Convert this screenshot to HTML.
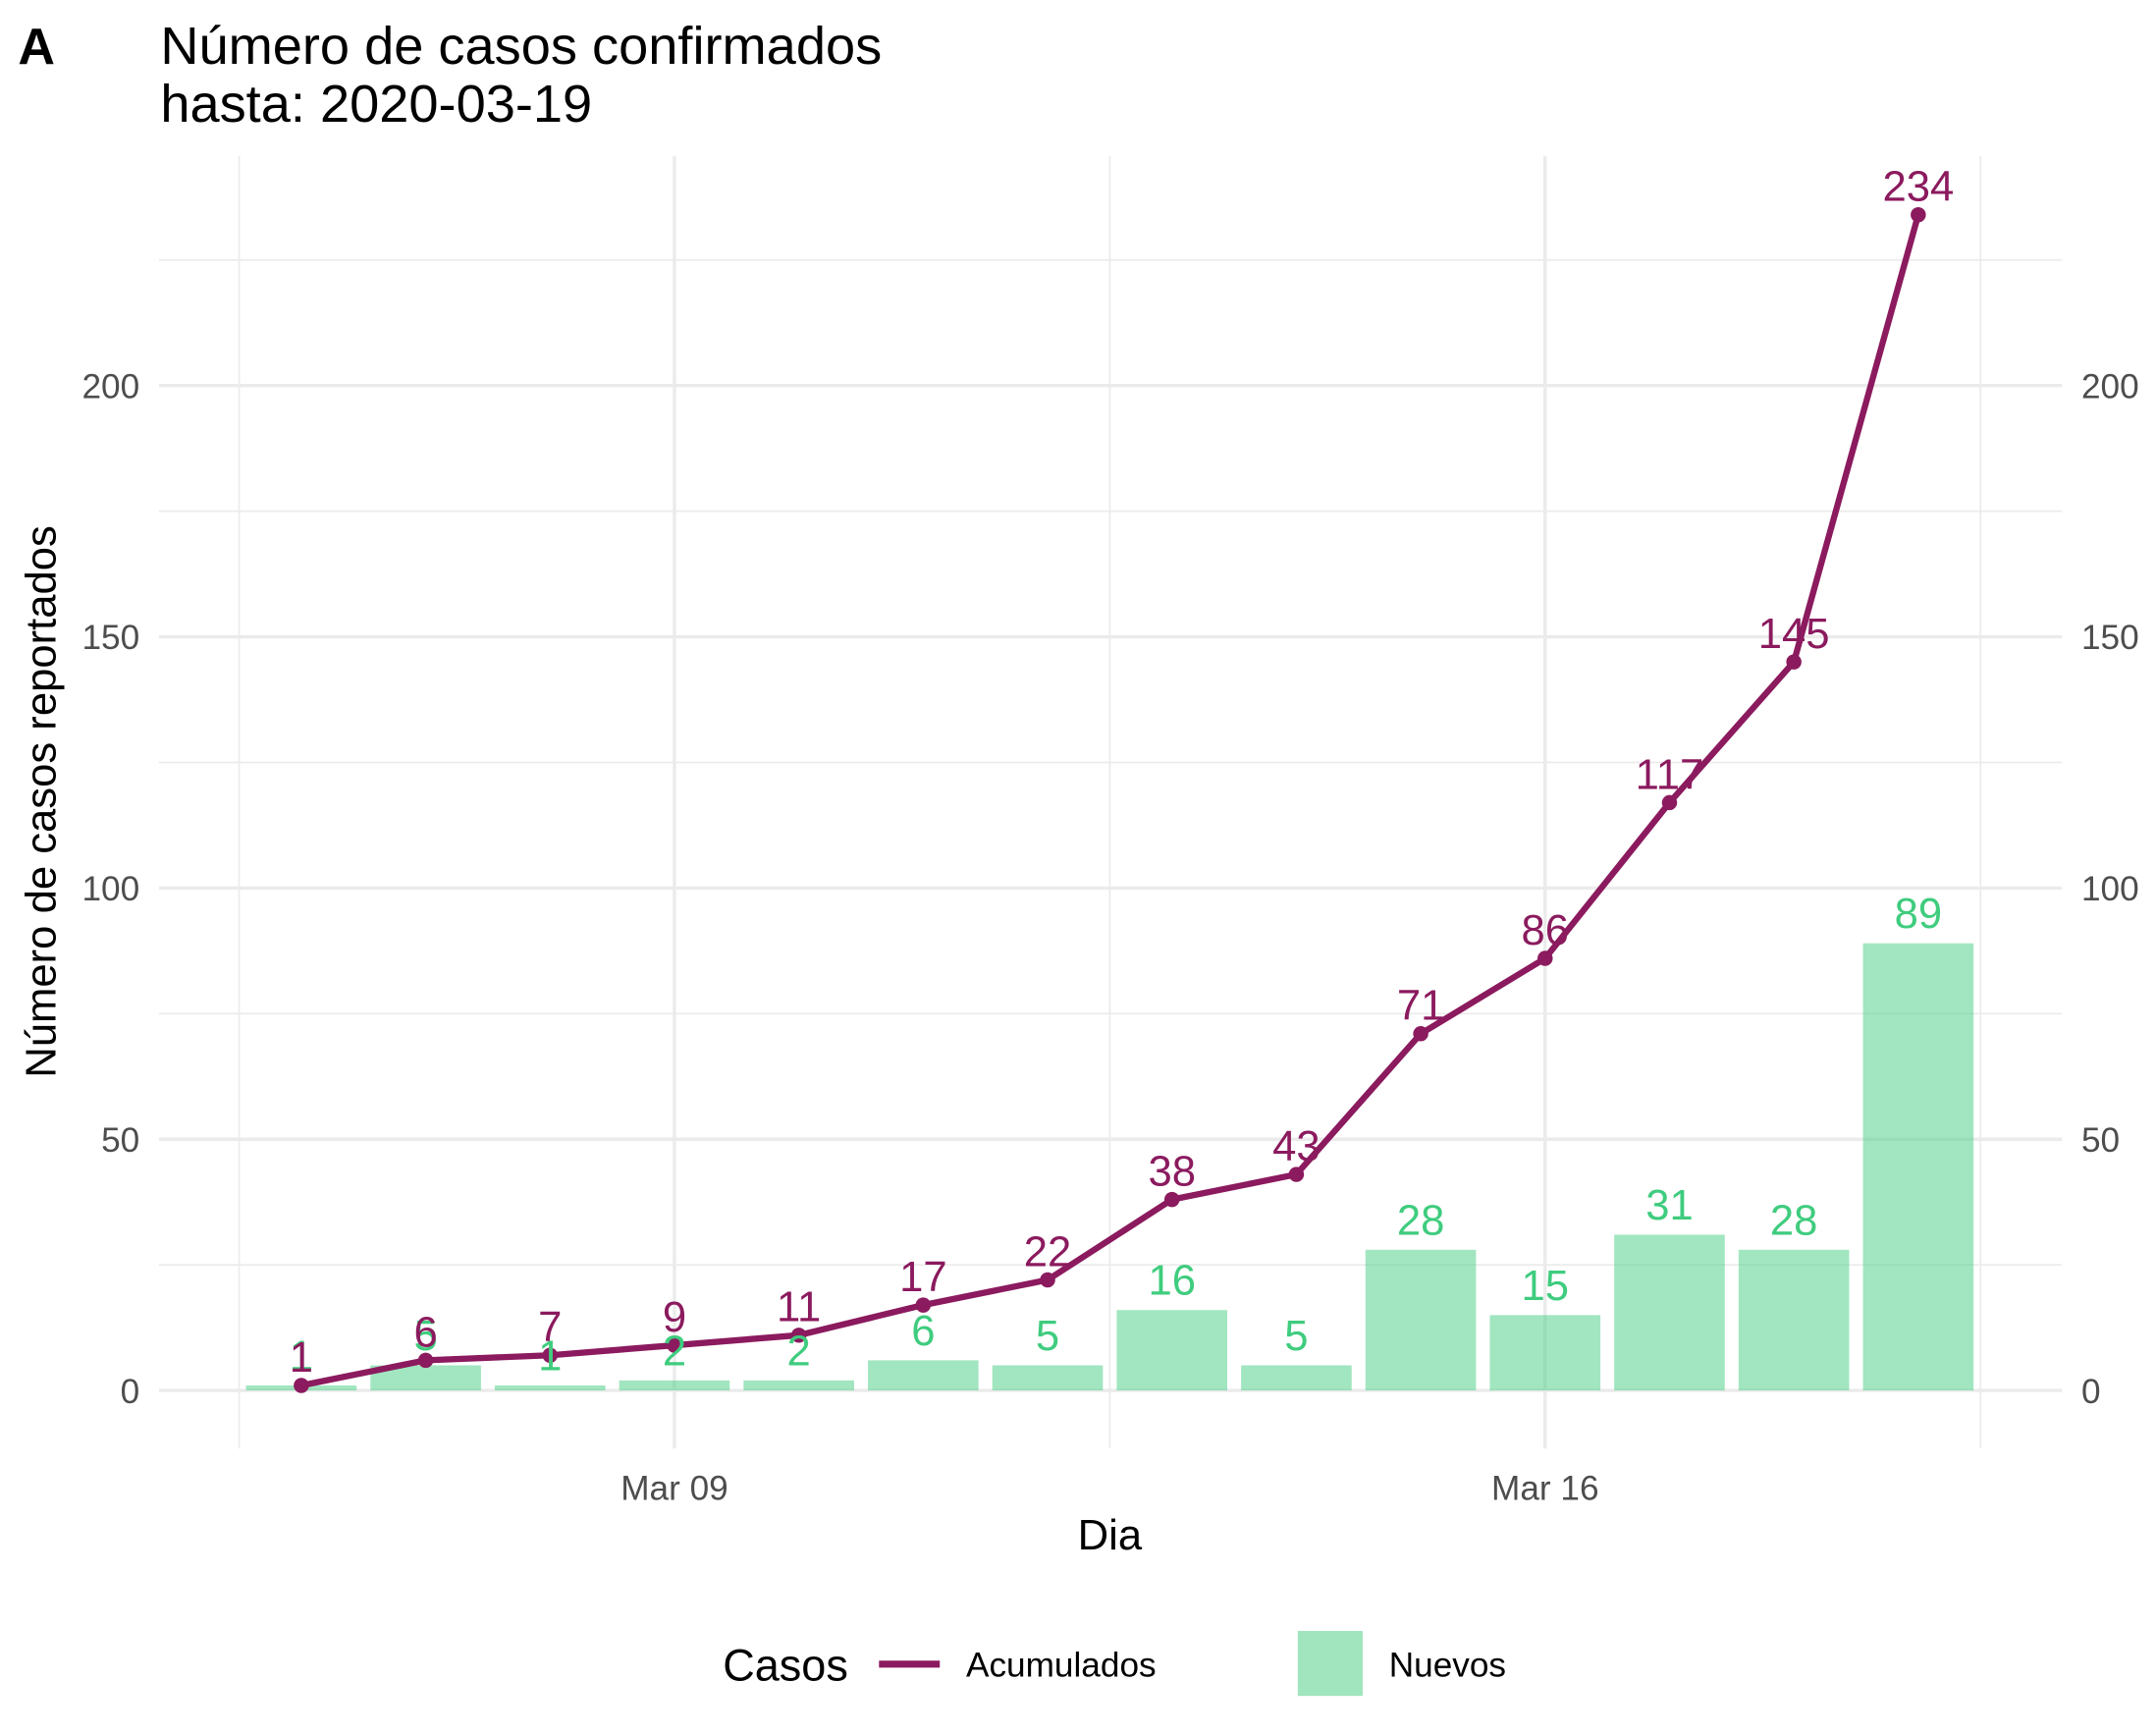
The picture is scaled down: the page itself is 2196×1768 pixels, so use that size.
<!DOCTYPE html>
<html><head><meta charset="utf-8"><style>
html,body{margin:0;padding:0;background:#fff}
svg{display:block;font-family:"Liberation Sans",Arial,sans-serif}
</style></head><body>
<svg id="chart" width="2196" height="1768" viewBox="0 0 1560 1256" xmlns="http://www.w3.org/2000/svg">
<text x="13" y="46" font-size="37" font-weight="bold">A</text>
<text x="116" y="46" font-size="38.5">Número de casos confirmados</text>
<text x="116" y="88" font-size="38.5">hasta: 2020-03-19</text>
<g id="grid"></g>
<g id="bars"></g>
<g id="line"></g>
<g id="labels"></g>
<g id="axes"></g>
<text x="803" y="1121" font-size="31" text-anchor="middle">Dia</text>
<text transform="translate(40,580) rotate(-90)" font-size="31" text-anchor="middle">Número de casos reportados</text>
<g>
<text x="523" y="1216" font-size="32">Casos</text>
<line x1="636" x2="680" y1="1204" y2="1204" stroke="#8B1A5E" stroke-width="5"/>
<text x="699" y="1213" font-size="25">Acumulados</text>
<rect x="939" y="1180" width="47" height="47" fill="#A0E5BE"/>
<text x="1005" y="1213" font-size="25">Nuevos</text>
</g>
</svg>
<script>
const days = [6,7,8,9,10,11,12,13,14,15,16,17,18,19];
const acumulados = [1,6,7,9,11,17,22,38,43,71,86,117,145,234];
const nuevos = [1,5,1,2,2,6,5,16,5,28,15,31,28,89];
const yTicks = [0,50,100,150,200];
const yMinor = [25,75,125,175,225];
const xTickDays = [9,16];
const xTickLabels = ["Mar 09","Mar 16"];
const xMinorDays = [5.5,12.5,19.5];

const NS="http://www.w3.org/2000/svg";
const x = d => 218 + (d-6)*90;
const y = v => 1006 - v*3.635;
function mk(tag, attrs, parent, text){
  const e=document.createElementNS(NS,tag);
  for(const k in attrs) e.setAttribute(k,attrs[k]);
  if(text!==undefined) e.textContent=text;
  document.getElementById(parent).appendChild(e);
  return e;
}
yMinor.forEach(v=>{
  const e=mk('line',{x1:115,x2:1492,y1:y(v),y2:y(v),stroke:'#ebebeb','stroke-width':1.2},'grid');
  
  
});
xMinorDays.forEach(d=>{
  const e=mk('line',{x1:x(d),x2:x(d),y1:113,y2:1048,stroke:'#ebebeb','stroke-width':1.2},'grid');
  
  
});
yTicks.forEach(v=>{
  const e=mk('line',{x1:115,x2:1492,y1:y(v),y2:y(v),stroke:'#ebebeb','stroke-width':2.4},'grid');
  
  
  const l=mk('text',{x:101,y:y(v)+9,'font-size':25,fill:'#4d4d4d','text-anchor':'end'},'axes',String(v));
  
  
  const r=mk('text',{x:1506,y:y(v)+9,'font-size':25,fill:'#4d4d4d'},'axes',String(v));
  
  
});
xTickDays.forEach((d,i)=>{
  const e=mk('line',{x1:x(d),x2:x(d),y1:113,y2:1048,stroke:'#ebebeb','stroke-width':2.4},'grid');
  
  
  const t=mk('text',{x:x(d),y:1085,'font-size':25,fill:'#4d4d4d','text-anchor':'middle'},'axes',xTickLabels[i]);
  
  
});
days.forEach((d,i)=>{
  const b=mk('rect',{x:x(d)-40,y:y(nuevos[i]),width:80,height:y(0)-y(nuevos[i]),fill:'#3FCC7E','fill-opacity':0.49},'bars');
  
  
});
const pts=days.map((d,i)=>x(d)+','+y(acumulados[i])).join(' ');
const pl=mk('polyline',{points:pts,fill:'none',stroke:'#8B1A5E','stroke-width':4.5,'stroke-linejoin':'round'},'line');


days.forEach((d,i)=>{
  const c=mk('circle',{cx:x(d),cy:y(acumulados[i]),r:5.5,fill:'#8B1A5E'},'line');
  
  
  const g=mk('text',{x:x(d),y:y(nuevos[i])-11,'font-size':31,fill:'#3FCC7E','text-anchor':'middle'},'labels',String(nuevos[i]));
  
  
});
days.forEach((d,i)=>{
  const t=mk('text',{x:x(d),y:y(acumulados[i])-10,'font-size':31,fill:'#8B1A5E','text-anchor':'middle'},'labels',String(acumulados[i]));
  
  
});
</script>
</body></html>
